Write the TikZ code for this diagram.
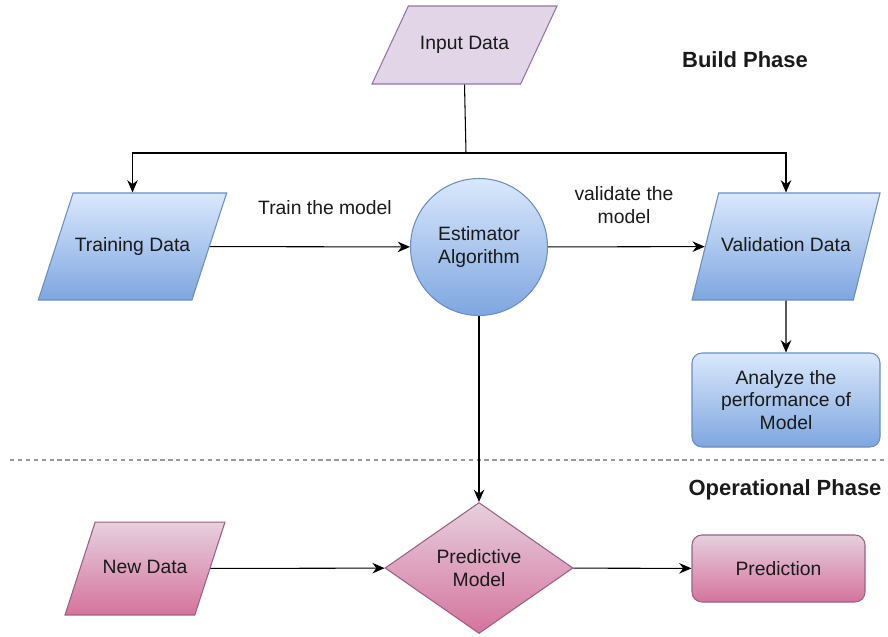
\documentclass[tikz,border=0pt]{standalone}
\usepackage{fontspec}
\setmainfont{Liberation Sans}
\usepackage{tikz}
\usetikzlibrary{arrows,arrows.meta,positioning,shapes.geometric}

\definecolor{blueTop}{HTML}{DAE8FC}
\definecolor{blueBot}{HTML}{7EA6E0}
\definecolor{blueLine}{HTML}{6C8EBF}
\definecolor{pinkTop}{HTML}{E6D0DE}
\definecolor{pinkBot}{HTML}{D5739D}
\definecolor{pinkLine}{HTML}{996185}
\definecolor{lilac}{HTML}{E1D5E7}
\definecolor{lilacLine}{HTML}{9673A6}
\definecolor{ink}{HTML}{1A1A1A}

\tikzset{
  every node/.style={font=\fontsize{11}{13}\selectfont, text=ink},
  data/.style={trapezium, trapezium left angle=#1, trapezium right angle=180-#1,
    trapezium stretches body=true, text height=8pt, text depth=2.5pt,
    inner xsep=1pt, line width=0.6pt},
  bluefill/.style={top color=blueTop, bottom color=blueBot, draw=blueLine},
  pinkfill/.style={top color=pinkTop, bottom color=pinkBot, draw=pinkLine},
  phase/.style={font=\bfseries\fontsize{12.5}{15}\selectfont},
  link/.style={->, >={Stealth[length=7pt,width=6pt]}, line width=0.6pt},
}

\begin{document}
\begin{tikzpicture}
  \useasboundingbox (0,0) rectangle (17.76,12.72);
  % build phase
  \node (input) [data=65, fill=lilac, draw=lilacLine, inner ysep=0.595cm, minimum width=3.7cm] at (9.29,11.82) {Input Data};
  \node (train) [data=72, bluefill, inner ysep=0.885cm, minimum width=3.7cm] at (2.65,7.79) {Training Data};
  \node (est) [circle, bluefill, line width=0.6pt, minimum size=2.74cm, align=center] at (9.58,7.78) {Estimator\\Algorithm};
  \node (valid) [data=76, bluefill, inner ysep=0.885cm, minimum width=3.76cm] at (15.72,7.79) {Validation Data};
  \node (analyze) [rectangle, rounded corners=0.2cm, bluefill, line width=0.6pt, minimum width=3.76cm, minimum height=1.88cm, align=center] at (15.72,4.72) {Analyze the\\performance of\\Model};
  \node (build) [phase] at (14.9,11.52) {Build Phase};
  \node (trainlbl) at (6.5,8.56) {Train the model};
  \node (validlbl) [align=center] at (12.48,8.62) {validate the\\model};

  \coordinate (split) at (9.32,9.66);
  \draw [line width=0.6pt] (input.south) -- (split);
  \draw [link] (split) -| (train.north);
  \draw [link] (split) -| (valid.north);
  \draw [link] (train) -- (est);
  \draw [link] (est) -- (valid);
  \draw [link] (valid) -- (analyze);

  % divider
  \coordinate (divl) at (0.2,3.52);
  \coordinate (divr) at (17.76,3.52);
  \draw [gray!80, line width=0.8pt, dash pattern=on 2.5pt off 2pt] (divl) -- (divr);

  % operational phase
  \node (oper) [phase] at (15.7,2.92) {Operational Phase};
  \node (newd) [data=72, pinkfill, inner ysep=0.745cm, minimum width=3.2cm] at (2.9,1.35) {New Data};
  \node (model) [diamond, aspect=1.43, pinkfill, line width=0.6pt, inner sep=0pt, minimum width=3.76cm, minimum height=2.62cm, align=center] at (9.58,1.36) {Predictive\\Model};
  \node (result) [rectangle, rounded corners=0.2cm, pinkfill, line width=0.6pt, minimum width=3.46cm, minimum height=1.34cm] at (15.57,1.35) {Prediction};

  \draw [link] (est) -- (model);
  \draw [link] (newd) -- (model);
  \draw [link] (model) -- (result);
\end{tikzpicture}
\end{document}
